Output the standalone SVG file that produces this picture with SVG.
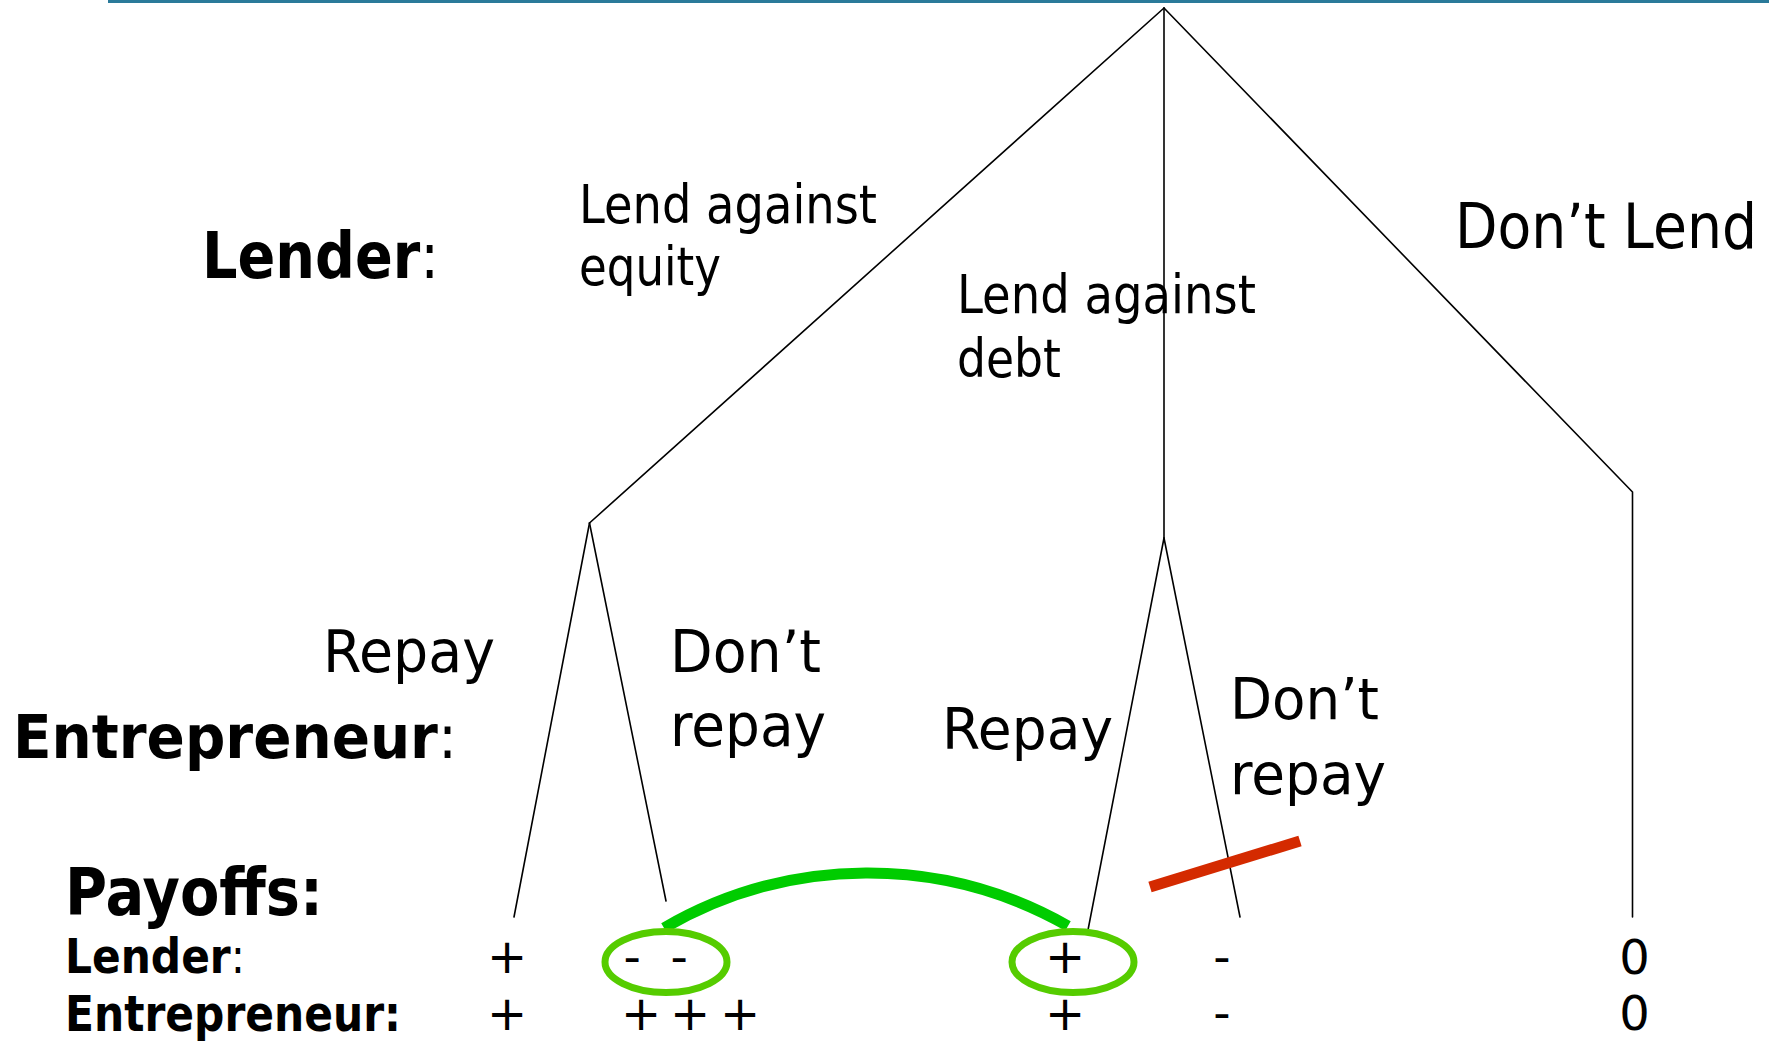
<svg xmlns="http://www.w3.org/2000/svg" width="1769" height="1041" viewBox="0 0 1769 1041">
<style>
  text { font-family: "DejaVu Sans", Verdana, sans-serif; fill: #000; }
  .b { font-weight: bold; }
  .r { font-weight: normal; }
  .pay { font-size: 48px; }
  .edge { stroke: #000; stroke-width: 1.6; fill: none; stroke-linecap: round; }
  .ring { fill: none; stroke: #55cc00; stroke-width: 7; }
</style>
<rect x="0" y="0" width="1769" height="1041" fill="#ffffff"/>
<line id="top-rule" x1="108" y1="1.5" x2="1769" y2="1.5" stroke="#2a7a9a" stroke-width="3"/>

<g id="connectors">
  <line class="edge" x1="1164" y1="8" x2="589.5" y2="523"/>
  <line class="edge" x1="1164" y1="8" x2="1164" y2="538"/>
  <polyline class="edge" points="1164,8 1632.5,492 1632.5,917"/>
  <line class="edge" x1="589.5" y1="523" x2="514" y2="917"/>
  <line class="edge" x1="589.5" y1="523" x2="666" y2="901"/>
  <line class="edge" x1="1164" y1="538" x2="1088" y2="930"/>
  <line class="edge" x1="1164" y1="538" x2="1240" y2="917"/>
</g>

<g id="row-labels">
  <text id="lender-label" x="202" y="278" font-size="64" textLength="237" lengthAdjust="spacingAndGlyphs"><tspan class="b">Lender</tspan><tspan class="r">:</tspan></text>
  <text id="entrepreneur-label" x="13" y="758" font-size="61" textLength="444" lengthAdjust="spacingAndGlyphs"><tspan class="b">Entrepreneur</tspan><tspan class="r">:</tspan></text>
  <text id="payoffs-label" class="b" x="65" y="915" font-size="66" textLength="258" lengthAdjust="spacingAndGlyphs">Payoffs:</text>
  <text id="payoff-lender-label" x="65" y="973" font-size="48" textLength="180" lengthAdjust="spacingAndGlyphs"><tspan class="b">Lender</tspan><tspan class="r">:</tspan></text>
  <text id="payoff-entrepreneur-label" class="b" x="65" y="1031" font-size="50" textLength="336" lengthAdjust="spacingAndGlyphs">Entrepreneur:</text>
</g>

<g id="node-root">
  <text id="lbl-equity-1" x="579" y="223" font-size="53" textLength="298" lengthAdjust="spacingAndGlyphs">Lend against</text>
  <text id="lbl-equity-2" x="579" y="285" font-size="53" textLength="142" lengthAdjust="spacingAndGlyphs">equity</text>
  <text id="lbl-debt-1" x="957" y="313" font-size="53" textLength="299" lengthAdjust="spacingAndGlyphs">Lend against</text>
  <text id="lbl-debt-2" x="957" y="377" font-size="53" textLength="104" lengthAdjust="spacingAndGlyphs">debt</text>
  <text id="lbl-dontlend" x="1455" y="248" font-size="62" textLength="302" lengthAdjust="spacingAndGlyphs">Don’t Lend</text>
</g>

<g id="node-equity">
  <text x="323" y="672" font-size="58" textLength="172" lengthAdjust="spacingAndGlyphs">Repay</text>
  <text x="670" y="672" font-size="58" textLength="151" lengthAdjust="spacingAndGlyphs">Don’t</text>
  <text x="670" y="746" font-size="58" textLength="156" lengthAdjust="spacingAndGlyphs">repay</text>
</g>

<g id="node-debt">
  <text x="942" y="749" font-size="57" textLength="171" lengthAdjust="spacingAndGlyphs">Repay</text>
  <text x="1230" y="719" font-size="57" textLength="149" lengthAdjust="spacingAndGlyphs">Don’t</text>
  <text x="1230" y="794" font-size="57" textLength="156" lengthAdjust="spacingAndGlyphs">repay</text>
</g>

<g id="payoffs">
  <text class="pay" x="507" y="973" text-anchor="middle">+</text>
  <text class="pay" x="507" y="1030" text-anchor="middle">+</text>
  <text class="pay" x="623.5 649 670.6" y="973">- -</text>
  <text class="pay" x="621 661 670 710 720" y="1030">+ + +</text>
  <text class="pay" x="1065" y="973" text-anchor="middle">+</text>
  <text class="pay" x="1065" y="1030" text-anchor="middle">+</text>
  <text class="pay" x="1222" y="973" text-anchor="middle">-</text>
  <text class="pay" x="1222" y="1029" text-anchor="middle">-</text>
  <text class="pay" x="1634.5" y="974" text-anchor="middle">0</text>
  <text class="pay" x="1634.5" y="1030" text-anchor="middle">0</text>
</g>

<g id="highlights">
  <path d="M 664 928 A 405 405 0 0 1 1068 926" fill="none" stroke="#00cc00" stroke-width="11"/>
  <ellipse class="ring" cx="666" cy="962" rx="61" ry="30.5"/>
  <ellipse class="ring" cx="1073" cy="962" rx="61" ry="30.5"/>
  <line x1="1150" y1="887" x2="1300" y2="841" stroke="#d42a00" stroke-width="11"/>
</g>
</svg>
